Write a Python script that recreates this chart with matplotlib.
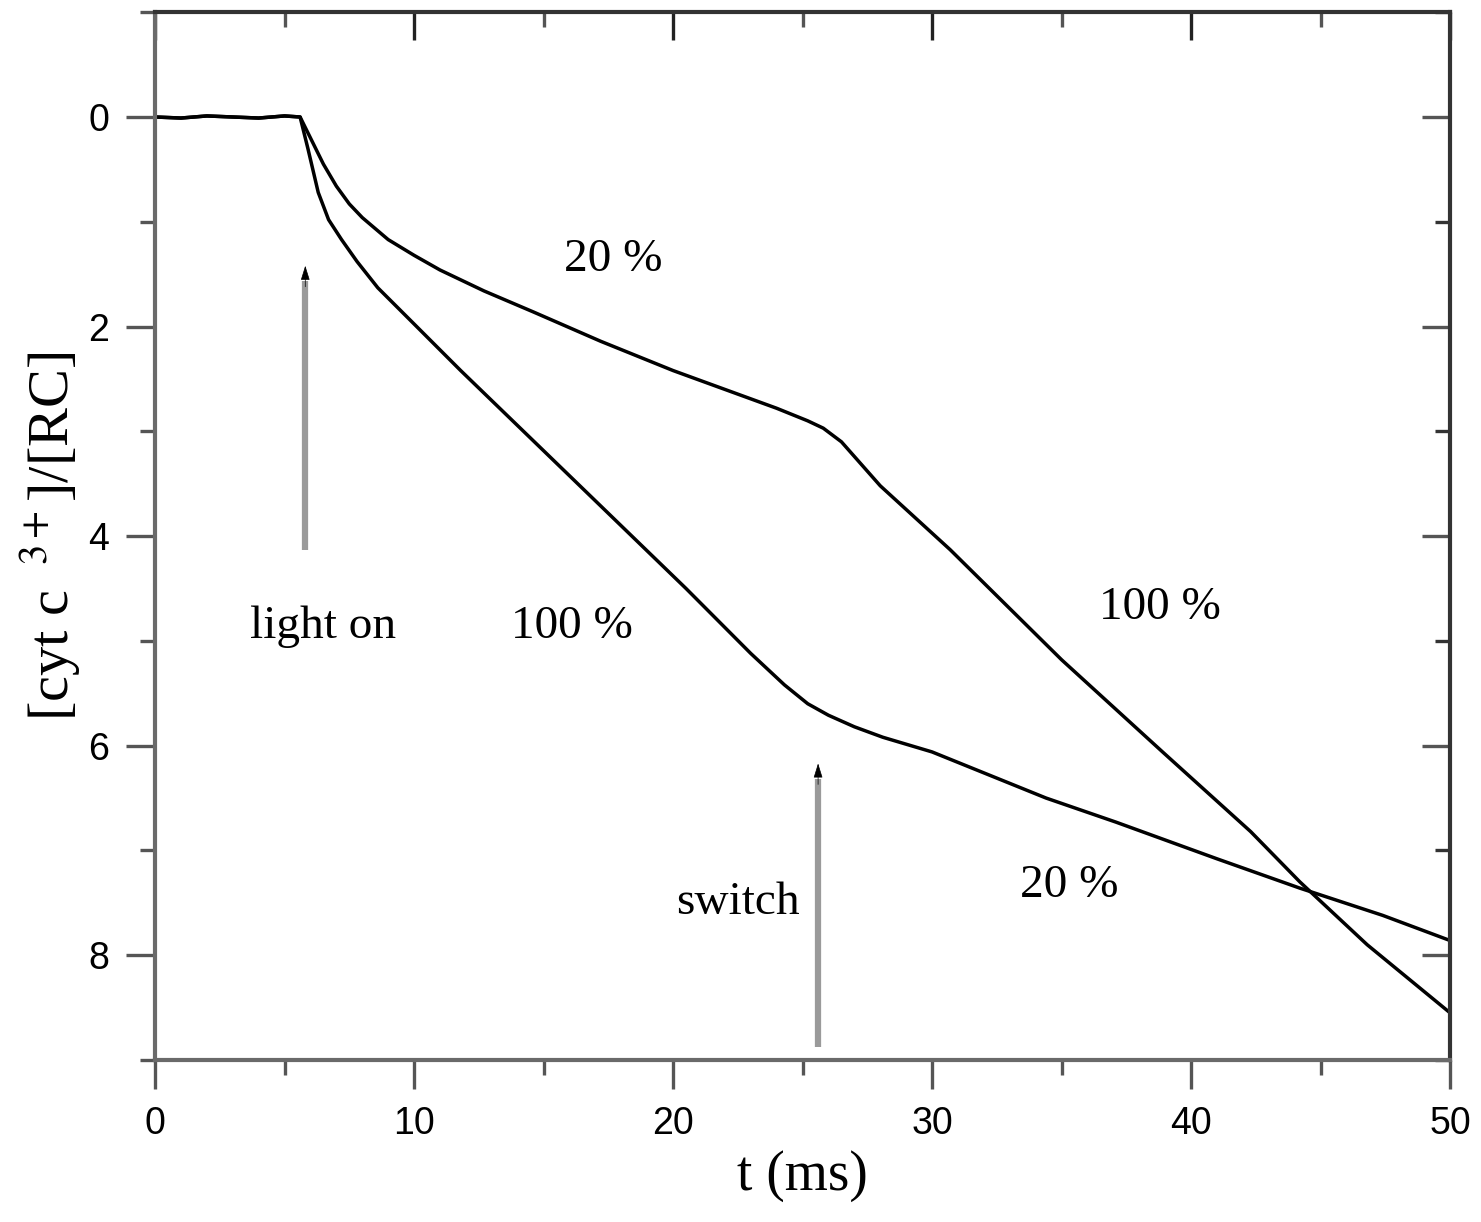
import matplotlib.pyplot as plt
from matplotlib.ticker import MultipleLocator

plt.rcParams['mathtext.fontset'] = 'stix'

# trace 1: 20 % light first, switched to 100 % at ~25.5 ms
t_20_100 = [0, 1, 2, 3, 4, 5, 5.6, 6.0, 6.5, 7.0, 7.5, 8.0, 9.0, 10.0, 11.0,
            12.7, 14.6, 17.2, 20.0, 22.0, 24.0, 25.2, 25.8, 26.5, 28.0, 30.7,
            35.0, 38.9, 42.3, 44.2, 46.8, 50.0]
v_20_100 = [0, 0.01, -0.01, 0.0, 0.01, -0.01, 0.0, 0.2, 0.45, 0.66, 0.83, 0.96,
            1.17, 1.32, 1.46, 1.66, 1.86, 2.14, 2.42, 2.6, 2.78, 2.9, 2.97, 3.1,
            3.52, 4.13, 5.18, 6.06, 6.82, 7.3, 7.9, 8.55]

# trace 2: 100 % light first, switched to 20 % at ~25.5 ms
t_100_20 = [0, 1, 2, 3, 4, 5, 5.6, 5.9, 6.3, 6.7, 7.2, 7.8, 8.6, 10.1, 11.8,
            15.9, 20.5, 23.0, 24.3, 25.2, 26.0, 27.0, 28.1, 30.0, 34.4, 37.1,
            41.0, 44.2, 47.4, 50.0]
v_100_20 = [0, 0.01, -0.01, 0.0, 0.01, -0.01, 0.0, 0.3, 0.72, 0.98, 1.17, 1.38,
            1.63, 2.0, 2.42, 3.4, 4.5, 5.12, 5.42, 5.6, 5.71, 5.82, 5.92, 6.06,
            6.5, 6.73, 7.08, 7.36, 7.62, 7.86]

fig = plt.figure(figsize=(14.81, 12.22), dpi=100)
ax = fig.add_axes([0.1047, 0.1326, 0.8744, 0.8574])

ax.plot(t_20_100, v_20_100, color='black', lw=2.5)
ax.plot(t_100_20, v_100_20, color='black', lw=2.5)

ax.set_xlim(0, 50)
ax.set_ylim(9, -1)

serif = 'Liberation Serif'

# arrows: grey shaft, small black head
for x0, y0, y1 in [(5.8, 4.13, 1.42), (25.6, 8.88, 6.17)]:
    ax.plot([x0, x0], [y0, y1 + 0.15], color='#9a9a9a', lw=4.5, solid_capstyle='butt')
    ax.annotate('', xy=(x0, y1), xytext=(x0, y1 + 0.2),
                arrowprops=dict(arrowstyle='-|>,head_length=0.9,head_width=0.28',
                                color='black', lw=0.5, shrinkA=0, shrinkB=0))

ax.text(6.5, 4.87, 'light on', family=serif, fontsize=34, ha='center', va='center')
ax.text(22.5, 7.5, 'switch', family=serif, fontsize=34, ha='center', va='center')
ax.text(17.7, 1.36, '20 %', family=serif, fontsize=34, ha='center', va='center')
ax.text(16.1, 4.87, '100 %', family=serif, fontsize=34, ha='center', va='center')
ax.text(38.8, 4.68, '100 %', family=serif, fontsize=34, ha='center', va='center')
ax.text(35.3, 7.34, '20 %', family=serif, fontsize=34, ha='center', va='center')

ax.set_xlabel('t (ms)', family=serif, fontsize=40, labelpad=6)
ax.set_ylabel(r'[cyt c $^{\ 3+}$]/[RC]', family=serif, fontsize=42, labelpad=4)

ax.xaxis.set_major_locator(MultipleLocator(10))
ax.xaxis.set_minor_locator(MultipleLocator(5))
ax.yaxis.set_major_locator(MultipleLocator(2))
ax.yaxis.set_minor_locator(MultipleLocator(1))

ax.tick_params(which='major', direction='out', length=21, width=2.4, color='#555',
               labelsize=27, pad=12)
ax.tick_params(which='minor', direction='out', length=11, width=2.4, color='#555')
for lab in ax.get_xticklabels() + ax.get_yticklabels():
    lab.set_family('Liberation Sans')

for side in ['left', 'bottom']:
    ax.spines[side].set_color('#6a6a6a')
    ax.spines[side].set_linewidth(3)
for side in ['top', 'right']:
    ax.spines[side].set_color('#333')
    ax.spines[side].set_linewidth(3)

# mirrored axes with inward ticks
top = ax.secondary_xaxis('top')
top.xaxis.set_major_locator(MultipleLocator(10))
top.xaxis.set_minor_locator(MultipleLocator(5))
top.tick_params(which='major', direction='in', length=20, width=2.4, color='#222', labeltop=False)
top.tick_params(which='minor', direction='in', length=11, width=2.4, color='#555')
top.spines['top'].set_visible(False)
right = ax.secondary_yaxis('right')
right.yaxis.set_major_locator(MultipleLocator(2))
right.yaxis.set_minor_locator(MultipleLocator(1))
right.tick_params(which='major', direction='in', length=20, width=2.4, color='#555', labelright=False)
right.tick_params(which='minor', direction='in', length=11, width=2.4, color='#333')
right.spines['right'].set_visible(False)

fig.savefig('out.png', dpi=100)
